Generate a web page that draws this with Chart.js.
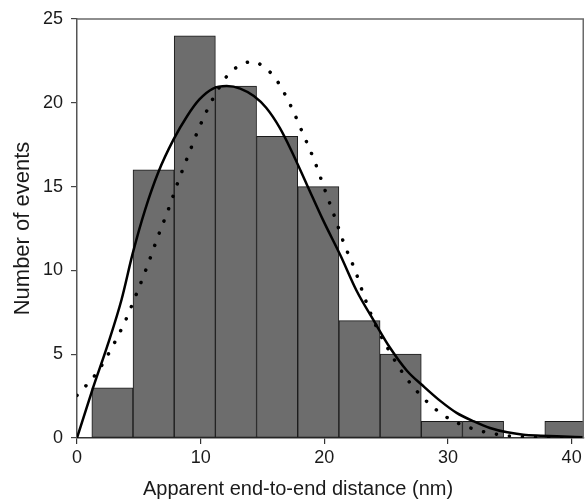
<!DOCTYPE html>
<html>
<head>
<meta charset="utf-8">
<script src="https://cdn.jsdelivr.net/npm/chart.js@4.4.1/dist/chart.umd.min.js"></script>
<style>
  html, body { margin: 0; padding: 0; background: #fff; }
  #wrap { width: 585px; height: 501px; }
</style>
</head>
<body>
<div id="wrap"><canvas id="myChart" width="585" height="501"></canvas></div>
<script>
// histogram bins (nm) and counts
var binEdges = [1.2, 4.53, 7.86, 11.19, 14.52, 17.85, 21.18, 24.51, 27.84, 31.17, 34.5, 37.83, 41.16]
var counts = [3, 16, 24, 21, 18, 15, 7, 5, 1, 1, 0, 1]

// solid fit curve
var solidX = [0, 1.3, 2.5, 3.6, 4.5, 5.5, 6.6, 7.8, 8.9, 9.9, 11.0, 12.1, 13.2, 14.3, 15.3, 16.4, 17.3, 18.6, 19.9, 21.3, 22.6, 24.0, 25.3, 26.7, 28.0, 29.4, 30.7, 32.1, 33.4, 34.8, 36.1, 37.5, 38.8, 41]
var solidY = [0, 3.0, 5.6, 8.25, 11.0, 13.6, 15.9, 17.8, 19.2, 20.2, 20.85, 21.0, 20.85, 20.4, 19.7, 18.5, 17.2, 15.1, 13.0, 10.9, 8.8, 7.0, 5.4, 4.0, 3.1, 2.2, 1.5, 0.99, 0.6, 0.34, 0.2, 0.14, 0.1, 0.05]

// dotted fit curve
var dotX = [0, 1.62, 2.84, 3.92, 4.83, 5.7, 6.53, 7.37, 8.18, 9.04, 9.94, 10.96, 12.2, 13.1, 14.2, 15.25, 16.1, 17.3, 18.25, 19.17, 20.0, 20.8, 21.6, 22.5, 23.3, 24.2, 25.3, 26.6, 28.2, 30.0, 32.3, 34.8, 37.5, 41]
var dotY = [2.54, 3.91, 5.42, 7.01, 8.64, 10.29, 11.99, 13.6, 15.3, 16.95, 18.62, 20.2, 21.66, 22.2, 22.46, 22.06, 21.4, 19.8, 18.2, 16.6, 14.9, 13.27, 11.59, 9.98, 8.29, 6.66, 5.13, 3.61, 2.24, 1.19, 0.49, 0.14, 0.03, 0]

var xTicks = [0, 10, 20, 30, 40]
var yTicks = [0, 5, 10, 15, 20, 25]

var myChart

function pairs(xs, ys) {
    var out = []
    for (var i = 0; i < xs.length; i++) out.push({ x: xs[i], y: ys[i] })
    return out
}

function bars() {
    var out = []
    for (var i = 0; i < counts.length; i++) {
        out.push({ x: (binEdges[i] + binEdges[i + 1]) / 2, y: counts[i] })
    }
    return out
}

// frame + axis titles drawn on top
var frame = {
    id: 'frame',
    afterDraw: function (chart) {
        var ctx = chart.ctx
        var a = chart.chartArea
        ctx.save()
        ctx.strokeStyle = '#6a6a6a'
        ctx.lineWidth = 1.5
        ctx.beginPath()
        ctx.moveTo(a.left, a.top)
        ctx.lineTo(a.right - 0.75, a.top)
        ctx.lineTo(a.right - 0.75, a.bottom)
        ctx.stroke()

        ctx.fillStyle = '#1a1a1a'
        ctx.font = '20px "Liberation Sans", Arial, sans-serif'
        ctx.textAlign = 'center'
        ctx.textBaseline = 'alphabetic'
        ctx.fillText('Apparent end-to-end distance (nm)', 298, 495)

        ctx.translate(29, 228.5)
        ctx.rotate(-Math.PI / 2)
        ctx.font = '22px "Liberation Sans", Arial, sans-serif'
        ctx.fillText('Number of events', 0, 0)
        ctx.restore()
    }
}

function Graphic() {
    var ctx = document.getElementById('myChart')
    myChart = new Chart(ctx, {
        type: 'bar',
        data: {
            datasets: [{
                type: 'line',
                data: pairs(solidX, solidY),
                borderColor: '#000',
                borderWidth: 2.5,
                pointRadius: 0,
                cubicInterpolationMode: 'monotone',
                order: 1
            },
            {
                type: 'line',
                data: pairs(dotX, dotY),
                borderColor: '#000',
                borderWidth: 3.5,
                borderDash: [0.1, 13],
                borderCapStyle: 'round',
                pointRadius: 0,
                cubicInterpolationMode: 'monotone',
                order: 2
            },
            {
                type: 'bar',
                data: bars(),
                backgroundColor: '#6d6d6d',
                borderColor: '#1a1a1a',
                borderWidth: 1,
                borderSkipped: false,
                categoryPercentage: 1.0,
                barPercentage: 1.0,
                order: 3
            }]
        },
        options: {
            responsive: false,
            animation: false,
            events: [],
            layout: { padding: { top: 19, right: 1, left: 0, bottom: 0 } },
            plugins: { legend: { display: false }, tooltip: { enabled: false } },
            scales: {
                x: {
                    type: 'linear',
                    min: 0,
                    max: 41,
                    offset: false,
                    afterFit: function (s) { s.height = 63 },
                    afterBuildTicks: function (s) { s.ticks = xTicks.map(function (v) { return { value: v } }) },
                    grid: { offset: false, drawOnChartArea: false, drawTicks: true, tickLength: 6, color: '#333', lineWidth: 1.2 },
                    border: { display: true, color: '#333', width: 1.5 },
                    ticks: { color: '#1a1a1a', padding: 3, maxRotation: 0, font: { family: '"Liberation Sans", Arial, sans-serif', size: 18 } }
                },
                y: {
                    min: 0,
                    max: 25,
                    afterFit: function (s) { s.width = 77 },
                    afterBuildTicks: function (s) { s.ticks = yTicks.map(function (v) { return { value: v } }) },
                    grid: { offset: false, drawOnChartArea: false, drawTicks: true, tickLength: 6, color: '#444', lineWidth: 1.2 },
                    border: { display: true, color: '#555', width: 1.5 },
                    ticks: { color: '#1a1a1a', padding: 8, font: { family: '"Liberation Sans", Arial, sans-serif', size: 18 } }
                }
            }
        },
        plugins: [frame]
    })
}

window.addEventListener('load', Graphic)
</script>
</body>
</html>
